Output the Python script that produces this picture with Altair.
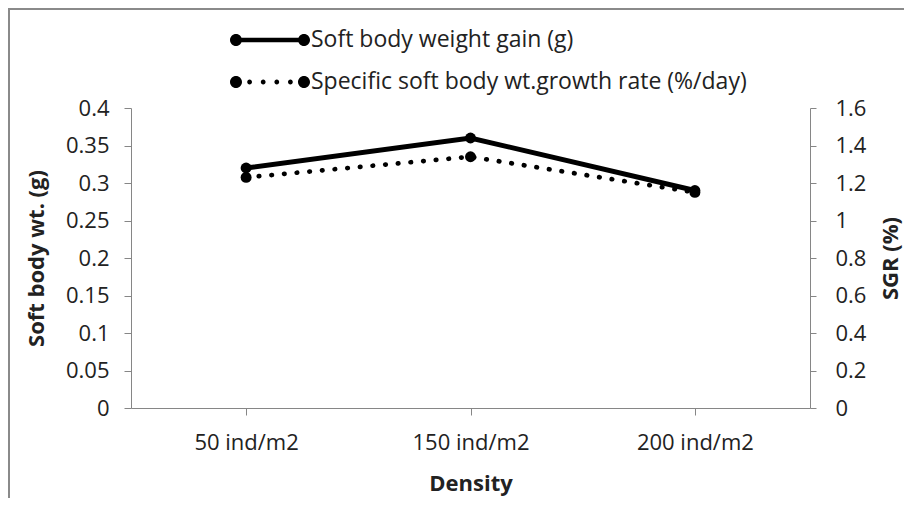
import altair as alt
import pandas as pd

# ---- data ----
categories = ["50 ind/m2", "150 ind/m2", "200 ind/m2"]
weight_gain = [0.32, 0.36, 0.29]          # left axis (g)
sgr = [1.23, 1.34, 1.15]                   # right axis (%/day)
series_names = ["Soft body weight gain (g)",
                "Specific soft body wt.growth rate (%/day)"]
left_ticks = [0, 0.05, 0.1, 0.15, 0.2, 0.25, 0.3, 0.35, 0.4]
right_ticks = [0, 0.2, 0.4, 0.6, 0.8, 1.0, 1.2, 1.4, 1.6]

df = pd.DataFrame({"Density": categories, "wt": weight_gain, "sgr": sgr})

FONT = "Open Sans"
TXT = "#222222"
AX = "#868686"
TICK_FS = 22
TITLE_FS = 22


def circle(cx, r):
    return f"M{cx - r},0A{r},{r} 0 1,1 {cx + r},0A{r},{r} 0 1,1 {cx - r},0Z"


solid_sym = (circle(-0.85, 0.15) + "M-0.85,-0.055L0.85,-0.055L0.85,0.055L-0.85,0.055Z"
             + circle(0.85, 0.15))
dotted_sym = circle(-0.85, 0.15) + "".join(circle(x, 0.06) for x in [-0.51, -0.17, 0.17, 0.51]) \
    + circle(0.85, 0.15)

x_enc = alt.X(
    "Density:N", sort=categories,
    scale=alt.Scale(type="point", padding=0.513),
    axis=alt.Axis(title="Density", labelAngle=0, grid=False, domainColor=AX, tickColor=AX,
                  tickSize=7, labelFontSize=TICK_FS, labelFont=FONT, labelColor=TXT, labelPadding=17,
                  titleFont=FONT, titleFontSize=TITLE_FS, titleFontWeight="bold", titleColor=TXT,
                  titlePadding=20),
)

base = alt.Chart(df).encode(x=x_enc)

wt_y = alt.Y("wt:Q", scale=alt.Scale(domain=[0, 0.4]),
             axis=alt.Axis(orient="left", values=left_ticks, format=".2~f", grid=False,
                           domainColor=AX, tickColor=AX, tickSize=7, labelFontSize=TICK_FS,
                           labelFont=FONT, labelColor=TXT, labelPadding=15,
                           title="Soft body wt. (g)", titleFont=FONT, titleFontSize=TITLE_FS,
                           titleFontWeight="bold", titleColor=TXT, titlePadding=17))
wt_line = base.mark_line(color="black", strokeWidth=5).encode(y=wt_y)
wt_pts = base.mark_point(filled=True, color="black", size=120, opacity=1, shape="circle").encode(y=wt_y)
left = alt.layer(wt_line, wt_pts)

sgr_y = alt.Y("sgr:Q", scale=alt.Scale(domain=[0, 1.6]),
              axis=alt.Axis(orient="right", values=right_ticks, format=".1~f", grid=False,
                            domainColor=AX, tickColor=AX, tickSize=6, labelFontSize=TICK_FS,
                            labelFont=FONT, labelColor=TXT, labelPadding=19,
                            title="SGR (%)", titleFont=FONT, titleFontSize=TITLE_FS,
                            titleFontWeight="bold", titleColor=TXT, titlePadding=15,
                            titleAngle=270, titleBaseline="top"))
sgr_line = base.mark_line(color="black", strokeWidth=4.7, strokeDash=[0.5, 12.2],
                          strokeCap="round").encode(y=sgr_y)
sgr_pts = base.mark_point(filled=True, color="black", size=120, opacity=1, shape="circle").encode(y=sgr_y)
right = alt.layer(sgr_line, sgr_pts)

legend_layer = alt.Chart(df).transform_filter("false").mark_point(
    filled=True, color="black").encode(
    shape=alt.Shape("series:N",
                    scale=alt.Scale(domain=series_names, range=[solid_sym, dotted_sym]),
                    legend=alt.Legend(title=None, orient="none", legendX=99, legendY=-84,
                                      padding=0, symbolSize=6400, symbolStrokeWidth=0,
                                      symbolFillColor="black", symbolOpacity=1,
                                      labelFont=FONT, labelFontSize=23, labelColor=TXT,
                                      labelOffset=1, clipHeight=32, rowPadding=10,
                                      labelLimit=600)))

frame = alt.Chart(pd.DataFrame({"frame": [1]})).mark_rect(
    fillOpacity=0, stroke="#8a8a8a", strokeWidth=2, clip=False).encode(
    x=alt.value(-122), x2=alt.value(900), y=alt.value(-99), y2=alt.value(500))

chart = alt.layer(frame, left, right, legend_layer).resolve_scale(y="independent").properties(
    width=679, height=300,
    autosize=alt.AutoSizeParams(type="none"),
    padding={"left": 123, "top": 100, "right": 94, "bottom": 90},
    background="white",
).configure_view(strokeWidth=0)

chart.save("out.html", embed_options={"renderer": "svg", "actions": False})
